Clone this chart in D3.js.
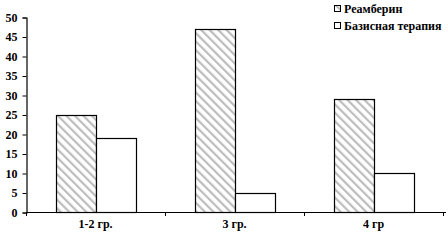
<!DOCTYPE html>
<html>
<head>
<meta charset="utf-8">
<script src="https://cdn.jsdelivr.net/npm/d3@7"></script>
<style>
  body { margin: 0; background: #fff; }
  text { font-family: "Liberation Serif", "Times New Roman", serif; font-weight: bold; fill: #000; }
</style>
</head>
<body>
<svg id="chart"></svg>
<script>
var categories = ["1-2 гр.", "3 гр.", "4 гр"];
var seriesNames = ["Реамберин", "Базисная терапия"];
var reamberin = [25, 47, 29];
var basic = [19, 5, 10];
var yTicks = [0, 5, 10, 15, 20, 25, 30, 35, 40, 45, 50];

var width = 448;
var height = 240;
var plotLeft = 26, plotRight = 443, plotTop = 17, plotBottom = 212;

var svg = d3.select("#chart")
  .attr("width", width)
  .attr("height", height);

var defs = svg.append("defs");
var pat = defs.append("pattern")
  .attr("id", "hatch")
  .attr("patternUnits", "userSpaceOnUse")
  .attr("width", 6)
  .attr("height", 6)
  .attr("patternTransform", "rotate(-45)");
pat.append("rect").attr("width", 6).attr("height", 6).attr("fill", "#fff");
pat.append("rect").attr("x", 0).attr("y", 0).attr("width", 2.2).attr("height", 6).attr("fill", "#bdbdbd");

var xScale = d3.scaleBand().domain(categories).range([plotLeft, plotRight]);
var yScale = d3.scaleLinear().domain([0, 50]).range([plotBottom, plotTop]);
var barW = 40;

var data = categories.map(function(c, i) {
  return { cat: c, vals: [reamberin[i], basic[i]] };
});

// bars
var groups = svg.append("g").selectAll("g")
  .data(data)
  .enter()
  .append("g");

groups.selectAll("rect")
  .data(function(d) {
    return d.vals.map(function(v, j) { return { cat: d.cat, v: v, j: j }; });
  })
  .enter()
  .append("rect")
  .attr("x", function(d) {
    var c = xScale(d.cat) + xScale.bandwidth() / 2;
    return Math.round(c - barW + d.j * barW) + 0.5;
  })
  .attr("y", function(d) { return Math.round(yScale(d.v)) + 0.5; })
  .attr("width", barW)
  .attr("height", function(d) { return plotBottom - Math.round(yScale(d.v)); })
  .attr("fill", function(d) { return d.j === 0 ? "url(#hatch)" : "#fff"; })
  .attr("stroke", "#000")
  .attr("stroke-width", 1.2);

// y axis
svg.append("g")
  .attr("transform", "translate(" + (plotLeft + 0.5) + ",0.5)")
  .call(d3.axisLeft(yScale).tickValues(yTicks).tickSize(4).tickPadding(5))
  .call(function(g) {
    g.select(".domain").attr("stroke-width", 1.2);
    g.selectAll("text").style("font-size", "12px");
  });

// x axis
svg.append("line")
  .attr("x1", plotLeft).attr("x2", 446)
  .attr("y1", plotBottom + 0.5).attr("y2", plotBottom + 0.5)
  .attr("stroke", "#000").attr("stroke-width", 1.2);

var bounds = categories.map(function(c) { return xScale(c); }).concat([plotRight]);
svg.append("g").selectAll("line")
  .data(bounds)
  .enter()
  .append("line")
  .attr("x1", function(d) { return Math.round(d) + 0.5; })
  .attr("x2", function(d) { return Math.round(d) + 0.5; })
  .attr("y1", plotBottom)
  .attr("y2", plotBottom + 4)
  .attr("stroke", "#000");

svg.append("g").selectAll("text")
  .data(categories)
  .enter()
  .append("text")
  .attr("x", function(d) { return xScale(d) + xScale.bandwidth() / 2; })
  .attr("y", 228)
  .attr("text-anchor", "middle")
  .style("font-size", "12px")
  .text(function(d) { return d; });

// legend
var legend = svg.append("g").selectAll("g")
  .data(seriesNames)
  .enter()
  .append("g")
  .attr("transform", function(d, i) { return "translate(334," + (5 + i * 17) + ")"; });

legend.append("rect")
  .attr("x", 0.5).attr("y", 0.5)
  .attr("width", 6).attr("height", 6)
  .attr("fill", function(d, i) { return i === 0 ? "url(#hatch)" : "#fff"; })
  .attr("stroke", "#000");

legend.append("text")
  .attr("x", 10)
  .attr("y", 8)
  .style("font-size", "12px")
  .text(function(d) { return d; });
</script>
</body>
</html>
